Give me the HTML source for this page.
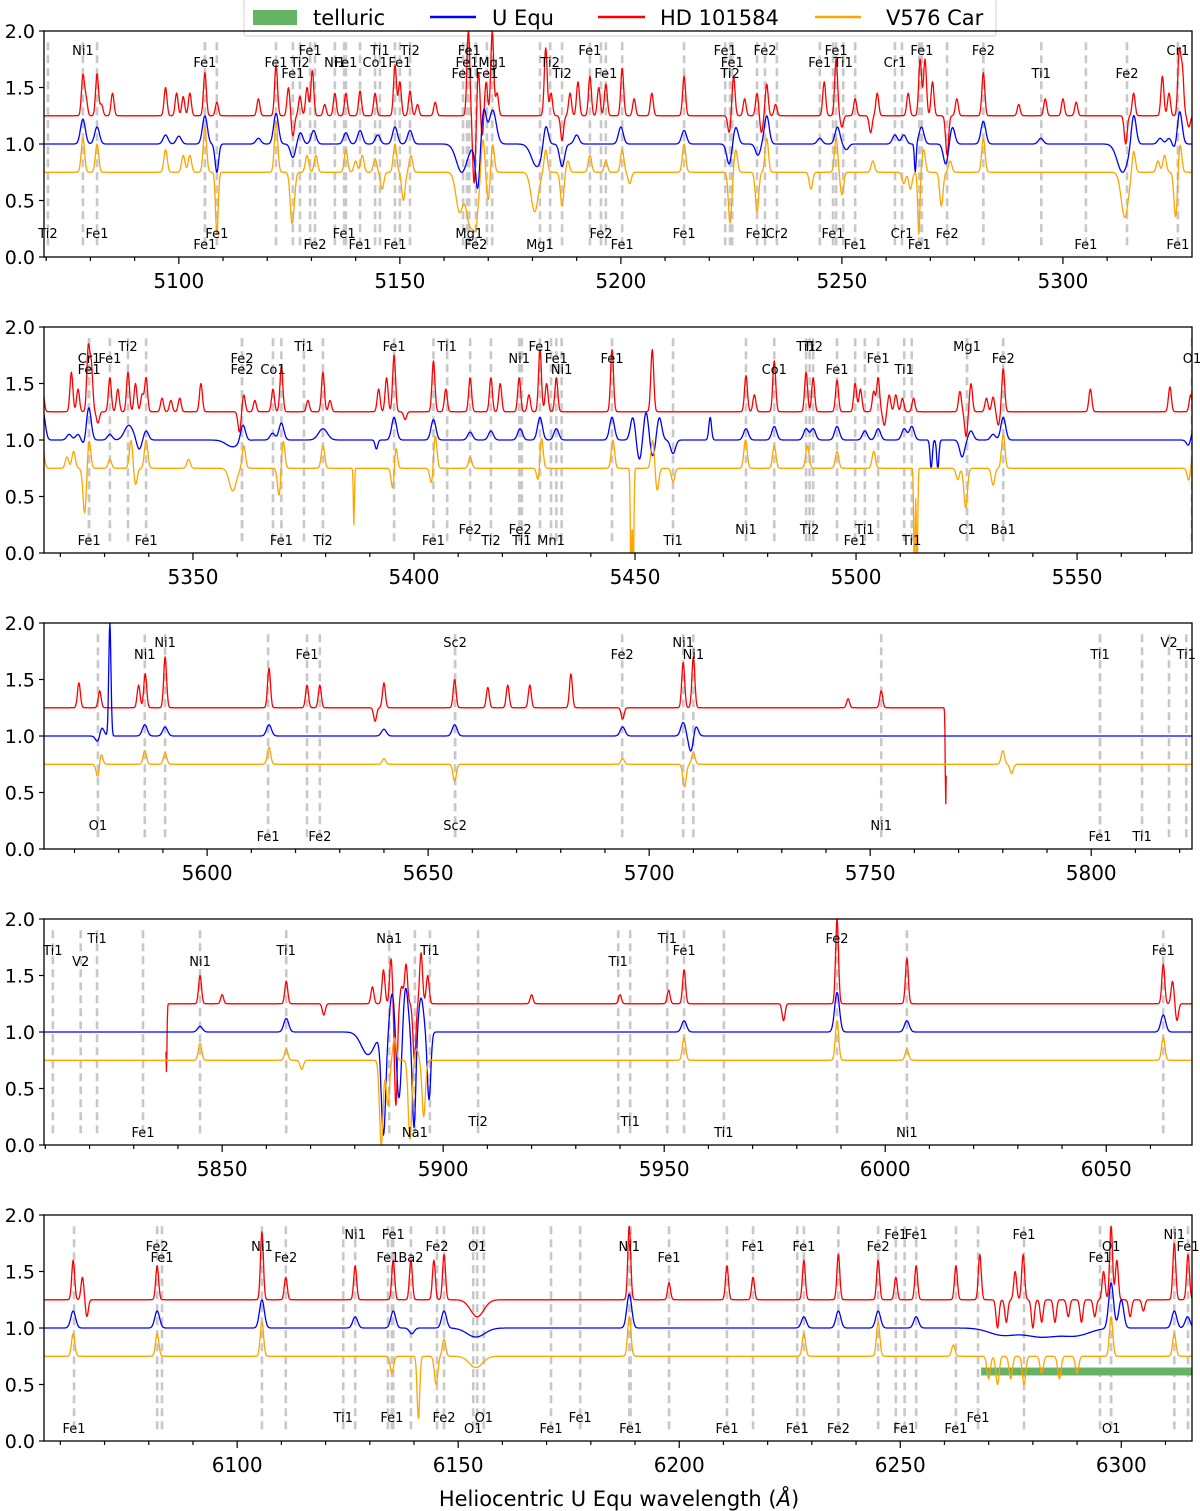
<!DOCTYPE html>
<html><head><meta charset="utf-8">
<style>
html,body{margin:0;padding:0;background:#fff;}
svg{display:block;font-family:"DejaVu Sans","Liberation Sans",sans-serif;}
</style></head>
<body>
<svg id="chart" width="1200" height="1511" viewBox="0 0 1200 1511" xmlns="http://www.w3.org/2000/svg">
<g id="legend">
<rect x="244" y="-2" width="752" height="38" rx="3" fill="#fff" stroke="#d0d0d0"/>
<rect x="253" y="10" width="44" height="15" fill="#66b366"/>
<text x="313" y="25" font-size="21">telluric</text>
<line x1="430" y1="17" x2="476" y2="17" stroke="#0000ff" stroke-width="2.5"/>
<text x="492" y="25" font-size="21">U Equ</text>
<line x1="598" y1="17" x2="645" y2="17" stroke="#ff0000" stroke-width="2.5"/>
<text x="660" y="25" font-size="21">HD 101584</text>
<line x1="815" y1="17" x2="861" y2="17" stroke="#ffa500" stroke-width="2.5"/>
<text x="886" y="25" font-size="21">V576 Car</text>
</g>
<text x="619" y="1506" font-size="21" text-anchor="middle">Heliocentric U Equ wavelength (<tspan font-style="italic">Å</tspan>)</text>
</svg>
<script>
const panelStart = [5069.5, 5316.3, 5563.1, 5809.7, 6056.3];
const panelSpan = 259.7;
const yTicks = [0.0, 0.5, 1.0, 1.5, 2.0];
const baseRed = 1.25, baseBlue = 1.0, baseOrange = 0.75;
const redRanges = [[5060, 5767.3], [5837.3, 6330]];
const telluricBand = [6268.3, 6316, 0.58, 0.65];

const lineWl = [5070.4,5078.3,5081.5,5105.9,5105.9,5108.6,5122,5125.8,5127.4,5129.7,5130.8,5135.3,5137.8,5137.4,5141,5144.4,5145.5,5148.9,5150,5152.3,5164.3,5165.2,5165.7,5165.7,5167.2,5169.7,5170.9,5181.7,5184,5186.7,5193,5195.5,5196.6,5200.3,5214.3,5223.6,5224.7,5225.2,5230.8,5232.6,5235.3,5245,5248,5248.7,5250.3,5253,5262,5263.6,5267.5,5268.1,5273.8,5282,5295.1,5305.2,5314.5,5326,5326,
5326.5,5326.5,5326.5,5331.2,5335.3,5339.4,5361.1,5361.1,5368.1,5370,5375.1,5379.4,5395.5,5404.4,5407.5,5412.7,5417.4,5423.8,5424,5424.4,5428.5,5432.2,5433.4,5431,5444.8,5458.6,5475.1,5481.5,5488.7,5490.3,5489.5,5495.7,5499.8,5502,5505,5510.9,5512.6,5525.1,5525.1,5533.3,5533.3,5576,
5575.3,5585.9,5590.5,5613.8,5622.6,5625.5,5656.1,5656.1,5693.9,5707.7,5710,5752.5,5802,5802,5811.5,5817.6,5821.5,
5811.7,5818,5821.7,5832.1,5845,5864.5,5887.8,5893.6,5897,5907.9,5939.6,5942.3,5950.7,5954.5,5963.5,5989.1,6004.9,6062.9,
6063.1,6081.9,6083,6105.6,6111,6124,6126.7,6134.1,6135.3,6135,6139.3,6145.2,6146.8,6153.4,6154.3,6155.8,6171,6177.6,6188.7,6189,6197.7,6210.8,6216.7,6226.7,6228.2,6236,6245,6249,6253.6,6251,6262.6,6267.6,6278,6295.2,6297.7,6297.7,6312,6315.1];
const lineLab = ["Ti2","Ni1","Fe1","Fe1","Fe1","Fe1","Fe1","Fe1","Ti2","Fe1","Fe2","Ni1","Fe1","Fe1","Fe1","Co1","Ti1","Fe1","Fe1","Ti2","Fe1","Fe1","Fe1","Mg1","Fe2","Fe1","Mg1","Mg1","Ti2","Ti2","Fe1","Fe2","Fe1","Fe1","Fe1","Fe1","Ti2","Fe1","Fe1","Fe2","Cr2","Fe1","Fe1","Fe1","Ti1","Fe1","Cr1","Cr1","Fe1","Fe1","Fe2","Fe2","Ti1","Fe1","Fe2","Cr1","Fe1",
"Cr1","Fe1","Fe1","Fe1","Ti2","Fe1","Fe2","Fe2","Co1","Fe1","Ti1","Ti2","Fe1","Fe1","Ti1","Fe2","Ti2","Ni1","Fe2","Ti1","Fe1","Fe1","Ni1","Mn1","Fe1","Ti1","Ni1","Co1","Ti1","Ti2","Ti2","Fe1","Fe1","Ti1","Fe1","Ti1","Ti1","Mg1","C1","Fe2","Ba1","O1",
"O1","Ni1","Ni1","Fe1","Fe1","Fe2","Sc2","Sc2","Fe2","Ni1","Ni1","Ni1","Ti1","Fe1","Ti1","V2","Ti1",
"Ti1","V2","Ti1","Fe1","Ni1","Ti1","Na1","Na1","Ti1","Ti2","Ti1","Ti1","Ti1","Fe1","Ti1","Fe2","Ni1","Fe1",
"Fe1","Fe2","Fe1","Ni1","Fe2","Ti1","Ni1","Fe1","Fe1","Fe1","Ba2","Fe2","Fe2","O1","O1","O1","Fe1","Fe1","Ni1","Fe1","Fe1","Fe1","Fe1","Fe1","Fe1","Fe2","Fe2","Fe1","Fe1","Fe1","Fe1","Fe1","Fe1","Fe1","O1","O1","Ni1","Fe1"];
const lineRow = [3,0,3,1,4,3,1,2,1,0,4,1,1,3,4,1,0,4,1,0,2,1,0,3,4,2,1,4,1,2,0,3,2,4,3,0,2,1,3,0,3,1,3,0,1,4,1,3,4,0,3,0,2,4,2,0,4,
1,2,4,1,0,4,1,2,2,4,0,4,0,4,0,3,4,1,3,4,0,1,2,4,1,4,3,2,0,0,3,2,4,3,1,2,4,0,3,1,3,1,
3,1,0,4,1,4,0,3,1,0,1,3,1,4,4,0,1,
1,2,0,4,2,1,0,4,1,3,2,3,0,1,4,0,4,1,
4,1,2,1,2,3,0,2,0,3,2,1,3,4,1,3,4,3,1,4,2,4,1,4,1,4,1,0,0,4,4,3,0,2,1,4,0,1];
const linePanel = [0,0,0,0,0,0,0,0,0,0,0,0,0,0,0,0,0,0,0,0,0,0,0,0,0,0,0,0,0,0,0,0,0,0,0,0,0,0,0,0,0,0,0,0,0,0,0,0,0,0,0,0,0,0,0,0,0,
1,1,1,1,1,1,1,1,1,1,1,1,1,1,1,1,1,1,1,1,1,1,1,1,1,1,1,1,1,1,1,1,1,1,1,1,1,1,1,1,1,1,
2,2,2,2,2,2,2,2,2,2,2,2,2,2,2,2,2,
3,3,3,3,3,3,3,3,3,3,3,3,3,3,3,3,3,3,
4,4,4,4,4,4,4,4,4,4,4,4,4,4,4,4,4,4,4,4,4,4,4,4,4,4,4,4,4,4,4,4,4,4,4,4,4,4];

const redFeat = [[5078.3,.35],[5079,.15],[5081.5,.37],[5082.5,.1],[5085,.2],[5097,.25],[5099.5,.2],[5101,.17],[5102.5,.2],[5105.9,.38],[5108.6,.12],[5118,.15],[5122,.45],[5124.8,.25],[5125.8,-.18],[5127.4,.17],[5129,.25],[5130.2,.4],[5133,.1],[5135.3,.2],[5137.8,.2],[5141,.22],[5144.4,.2],[5148.9,.45],[5150,.3],[5152.3,.22],[5154,.1],[5158,.12],[5165.5,.75],[5166.8,-.6],[5167.8,.4],[5168.6,-.2],[5169.5,.3],[5170.9,.75],[5172,.2],[5183,.6],[5184.2,.2],[5186.7,-.22],[5188.5,.2],[5190.3,.3],[5193,.35],[5195,.25],[5196.6,.28],[5200.3,.42],[5203,.15],[5207,.2],[5214.3,.35],[5224.5,-.15],[5225.5,.35],[5228,.15],[5230.8,.2],[5231.8,-.15],[5233,.28],[5235,.1],[5246,.3],[5248.7,.5],[5250,-.1],[5253,.15],[5256.5,-.15],[5258,.2],[5265,.2],[5267.7,.5],[5268.8,.5],[5270.5,.3],[5273.8,-.35],[5276,.15],[5282,.38],[5290,.1],[5296,.15],[5300,.15],[5303,.12],[5314.2,-.25],[5316,.2],[5322.5,.35],[5324,.2],[5326.3,.55],[5327,.4],[5328.5,-.1],
[5331.2,.3],[5333,.2],[5335.3,.35],[5337,.25],[5338.5,.15],[5339.4,.3],[5343,.12],[5345,.1],[5347,.12],[5351.8,.25],[5360.5,-.18],[5361.5,.15],[5364,.1],[5368.1,.2],[5370,.4],[5376,.1],[5379.4,.35],[5381,.1],[5392,.2],[5393.8,.3],[5395.5,.5],[5398,-.07],[5404.4,.45],[5407.2,.2],[5412.7,.3],[5417.4,.3],[5419.5,.25],[5423.8,.3],[5426,.15],[5428.5,.55],[5430,.25],[5432.2,.3],[5444.8,.55],[5453.9,.55],[5475.1,.32],[5477,.15],[5481.5,.45],[5488.7,.35],[5490.3,.3],[5495.7,.28],[5499.8,.25],[5501,.2],[5504,.18],[5505,.3],[5506.4,-.12],[5507.5,.15],[5509,.15],[5510.5,.12],[5513,.12],[5523.5,.18],[5524.9,-.22],[5526,.25],[5529.5,.12],[5531,.13],[5532.2,-.12],[5533.3,.38],[5553,.2],[5571,.22],[5575.7,.15],
[5584.5,.2],[5586,.3],[5590.5,.45],[5614,.35],[5622.6,.2],[5625.5,.2],[5638,-.12],[5640,.22],[5656,.25],[5663.5,.18],[5668,.2],[5673,.2],[5682.3,.3],[5694,-.1],[5707.7,.4],[5710,.45],[5745,.08],[5752.5,.15],[5767.1,-.85,.12],
[5837.4,-.6,.12],[5845,.25],[5850,.08],[5864.5,.2],[5873,-.1],[5884,.15],[5886.5,.3],[5888.2,.4],[5889.3,-.9],[5890.6,.15],[5891.6,.35],[5893.5,-.5],[5895,.45],[5896.5,.25],[5920,.08],[5940,.08],[5951,.12],[5954.5,.3],[5977,-.15],[5989.1,.75],[6004.9,.4],[6062.9,.35],[6065,.2],
[6066,-.15],[6081.9,.3],[6105.6,.6],[6111,.2],[6126.7,.3],[6135.3,.35],[6139.3,.35],[6144.5,.35],[6146.8,.4],[6154.3,-.15,1.5],[6188.7,.65],[6197.7,.15],[6210.8,.3],[6216.7,.2],[6228.2,.35],[6236,.4],[6245,.35],[6249,.2],[6253.6,.3],[6262.6,.3],[6268,.4],[6272,-.25],[6274,-.2],[6276,.25],[6277.8,.4],[6280,-.25],[6282,-.2],[6285,-.2],[6288,-.15],[6291,-.2],[6294,-.15],[6296,.25],[6297.7,.65],[6299,.35],[6302,-.15],[6305,-.1],[6312,.5],[6315.1,.4]];

const blueFeat = [[5078.3,.22],[5081.5,.15],[5097,.08],[5100,.07],[5105.9,.25],[5108.6,-.25,.4],[5118,.05],[5122,.27],[5125.8,-.12],[5127.5,.1],[5130.5,.12],[5137.8,.1],[5141,.12],[5145,.08],[5148.9,.15],[5152.3,.12],[5164,-.25,1.2],[5167.6,-.4,.5],[5169,.3],[5171,.3,.8],[5181,-.2,1.2],[5183,.2],[5186.7,-.2],[5190,.08],[5200,.15],[5214.3,.12],[5224.5,-.18],[5226,.15],[5231,-.1],[5233,.25],[5245,.05],[5249,.15],[5251,-.05],[5262,.08],[5264,.08],[5266.6,-.25,.2],[5268,.15],[5273.5,-.18],[5275,.15],[5282,.2],[5295,.05],[5313.5,-.25,1.2],[5316,.28],[5325.5,-.06],[5326.4,.3],
[5322,.05],[5324,.05],[5331.2,.05],[5335.5,.13,1],[5337.8,-.09],[5339.4,.08],[5359,-.06,1.5],[5361.3,.15],[5368,.06],[5370,.15],[5379.4,.1,1],[5391.5,-.08,.3],[5395.5,.2],[5404.4,.18],[5412.7,.07],[5417.4,.08],[5424,.1],[5428.5,.2],[5432.2,.1],[5444.8,.2],[5449.5,.2],[5451,-.18],[5452.5,.25],[5454,-.15],[5455.5,.2],[5458.6,-.12],[5467,.2,.3],[5475.1,.1],[5481.5,.12],[5488.7,.1],[5490.3,.1],[5495.7,.12],[5502,.08],[5505,.1],[5510.9,.1],[5512.6,.12],[5517,-.25,.25],[5518.5,-.25,.25],[5524,-.15],[5526,.08],[5531,.05],[5533.3,.2],[5576,.12],
[5575.5,-.1],[5578,1.0,.25],[5585.9,.1],[5590.5,.08],[5614,.1],[5640,.06],[5656,.1],[5694,.08],[5707.7,.12],[5709.5,-.15],[5710.5,.1],
[5845,.05],[5864.5,.12],[5883,-.2,1.5],[5886.5,-.9,.5],[5888.5,.35],[5890,-.6],[5891.5,.4],[5893.4,-.85,.4],[5895,.3],[5896.8,-.6,.4],[5954.5,.1],[5989.1,.35],[6004.9,.1],[6062.9,.15],
[6081.9,.15],[6105.6,.25],[6126.7,.1],[6135.3,.15],[6139.5,-.05],[6146.8,.15],[6154,-.08,2],[6188.7,.3],[6228.2,.1],[6236,.15],[6245,.15],[6253.6,.1],[6273,-.06,3],[6282,-.08,4],[6290,-.06,3],[6297.7,.4],[6300,.25],[6312,.15],[6315,.1]];

const orangeFeat = [[5078.3,.3],[5081.5,.25],[5097,.2],[5101,.15],[5102.5,.15],[5105.9,.4],[5108.6,-.55,.3],[5122,.45],[5125.5,-.35],[5126,-.2],[5129,.15],[5131,.15],[5137.8,.2],[5140,.1],[5141.5,.15],[5144.4,.12],[5146,-.15],[5148.9,.25],[5150.8,-.25],[5152.5,.15],[5163.5,-.35,.8],[5165.8,-.45,.8],[5167.2,-.4,.6],[5168.8,.3],[5170,-.25],[5171,.25],[5180.5,-.35,.8],[5183,.2],[5186.7,-.3],[5188,.1],[5193,.15],[5196.6,.1],[5200.3,.2],[5202,-.1],[5214.3,.25],[5224.7,-.45],[5226,.2],[5230.8,-.35],[5233,.3],[5243,-.15],[5248.7,.3],[5250,-.2],[5257,.1],[5264,-.1],[5265.5,-.15],[5267.4,-.55,.25],[5268.5,.2],[5272.5,-.3],[5274.5,.1],[5282,.3],[5314,-.4,.8],[5316,.2],[5325.5,-.4],[5326.5,.25],
[5321.5,.1],[5323,.15],[5331.2,.08],[5336,.25],[5337,-.15],[5339.4,.25],[5349,.08],[5359,-.2,.8],[5361.5,.2],[5369.5,-.25],[5370.4,.25],[5379.4,.2],[5386.4,-.5,.12],[5395.3,-.25],[5395.8,.25],[5404,-.15],[5404.8,.3],[5412.7,.1],[5428.2,-.15],[5428.8,.3],[5445,.25],[5449.1,-1.0,.15],[5449.6,-1.0,.15],[5454,.25],[5455,-.2],[5458.6,-.12],[5475,.25],[5481.5,.2],[5489,.2],[5495.7,.15],[5504,.15],[5513.2,-1,.15],[5513.8,-1,.15],[5523,-.1],[5524.8,-.35,.4],[5531,-.15],[5533.3,.3],[5576,.1],
[5575.3,-.12],[5585.9,.12],[5590.5,.1],[5614,.15],[5640,.05],[5656,-.15],[5694,.05],[5708,-.2],[5710,.1],[5780,.12],[5782,-.08],
[5845,.15],[5864.5,.1],[5868,-.08],[5886,-.75,.4],[5887.5,-.4],[5889,.2],[5892.5,-.7,.4],[5894,.1],[5895.6,-.5],[5954.5,.2],[5989.1,.35],[6004.9,.1],[6062.9,.2],
[6081.9,.2],[6105.6,.3],[6135,-.15],[6141,-.55,.3],[6145,-.25],[6146.8,.15],[6154,-.1,1.5],[6188.7,.35],[6228.2,.2],[6245,.3],[6262,.1],[6270,-.2],[6272,-.25],[6275,-.2],[6278,-.25],[6282,-.15],[6286,-.2],[6290,-.15],[6297.7,.35],[6312,.2]];

const NS = "http://www.w3.org/2000/svg";
const svg = document.getElementById("chart");
const X0 = 44, X1 = 1192, PH = 226, panelTop = [31, 327, 623, 919, 1215];
const rowDy = [19, 31, 42, 202, 213];
function mk(tag, attrs, parent){ const e = document.createElementNS(NS, tag); for (const k in attrs) e.setAttribute(k, attrs[k]); (parent||svg).appendChild(e); return e; }
function spec(wl, base, feats, defSig){
  let v = base;
  for (const f of feats){ const s = f[2] || defSig; const d = (wl - f[0]) / s; if (d > -6 && d < 6) v += f[1] * Math.exp(-0.5 * d * d); }
  return v;
}
function inRed(wl){ return redRanges.some(r => wl >= r[0] && wl <= r[1]); }

panelStart.forEach((ws, p) => {
  const top = panelTop[p];
  const xs = wl => X0 + (wl - ws) / panelSpan * (X1 - X0);
  const ys = v => top + PH - v / 2.0 * PH;
  const g = mk("g", {});
  
  
  const clipId = "clip" + p;
  const cp = mk("clipPath", {id: clipId}, g);
  mk("rect", {x: X0, y: top, width: X1 - X0, height: PH}, cp);
  const plot = mk("g", {"clip-path": "url(#" + clipId + ")"}, g);
  // dashed line markers
  lineWl.forEach((wl, i) => {
    if (linePanel[i] !== p) return;
    const x = xs(wl);
    const l = mk("line", {x1: x, x2: x, y1: ys(1.9), y2: ys(0.1), stroke: "#c8c8c8", "stroke-width": 2.6, "stroke-dasharray": "8,5"}, plot);
    
    
  });
  // telluric
  if (p === 4) {
    const t = mk("rect", {x: xs(telluricBand[0]), y: ys(telluricBand[3]), width: xs(telluricBand[1]) - xs(telluricBand[0]), height: ys(telluricBand[2]) - ys(telluricBand[3]), fill: "#66b366"}, plot);
    
    
  }
  // spectra
  const series = [["hd101584", "#ff0000", baseRed, redFeat, 0.33, true], ["u-equ", "#0000ff", baseBlue, blueFeat, 0.55, false], ["v576-car", "#ffa500", baseOrange, orangeFeat, 0.38, false]];
  series.forEach(s => {
    let d = "", pen = false;
    for (let wl = ws - 1; wl <= ws + panelSpan + 1; wl += 0.1) {
      if (s[5] && !inRed(wl)) { pen = false; continue; }
      const v = spec(wl, s[2], s[3], s[4]);
      d += (pen ? "L" : "M") + xs(wl).toFixed(1) + "," + ys(v).toFixed(1);
      pen = true;
    }
    const path = mk("path", {d: d, fill: "none", stroke: s[1], "stroke-width": 1.3, "stroke-linejoin": "round"}, plot);
    
    
  });
  // labels
  lineWl.forEach((wl, i) => {
    if (linePanel[i] !== p) return;
    const t = mk("text", {x: xs(wl), y: top + rowDy[lineRow[i]] + 5, "font-size": 13, "text-anchor": "middle"}, g);
    t.textContent = lineLab[i];
    
    
  });
  // frame
  const fr = mk("rect", {x: X0, y: top, width: X1 - X0, height: PH, fill: "none", stroke: "#000", "stroke-width": 1.3}, g);
  
  
  // y ticks
  yTicks.forEach(v => {
    mk("line", {x1: X0 - 5, x2: X0, y1: ys(v), y2: ys(v), stroke: "#000", "stroke-width": 1.2}, g);
    const t = mk("text", {x: X0 - 9, y: ys(v) + 7, "font-size": 19, "text-anchor": "end"}, g);
    t.textContent = v.toFixed(1);
    
    
  });
  // x ticks
  for (let w = Math.ceil(ws / 10) * 10; w <= ws + panelSpan; w += 10) {
    const major = w % 50 === 0;
    const x = xs(w);
    mk("line", {x1: x, x2: x, y1: top + PH, y2: top + PH + (major ? 7 : 4), stroke: "#000", "stroke-width": 1.2}, g);
    if (major) {
      const t = mk("text", {x: x, y: top + PH + 31, "font-size": 20, "text-anchor": "middle"}, g);
      t.textContent = String(w);
      
      
    }
  }
});
</script>
</body></html>
